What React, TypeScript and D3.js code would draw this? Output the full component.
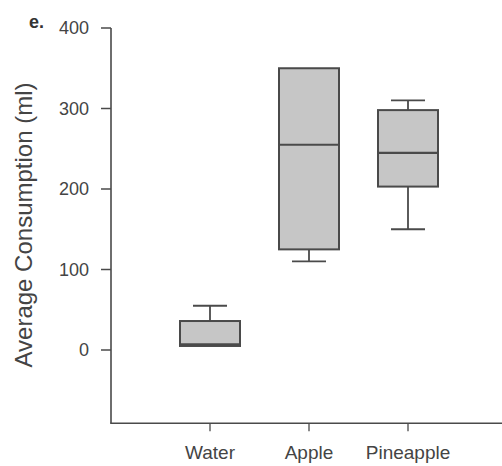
import React from 'react'
import * as d3 from 'd3'

const categories = ['Water', 'Apple', 'Pineapple']
const mins = [5, 110, 150]
const q1s = [5, 125, 203]
const medians = [7, 255, 245]
const q3s = [36, 350, 298]
const maxs = [55, 350, 310]
const yTicks = [0, 100, 200, 300, 400]

const width = 502
const height = 466

export default function App() {
  const xScale = d3.scaleLinear().domain([0, categories.length + 1]).range([111, 507])
  const yScale = d3.scaleLinear().domain([0, 400]).range([350, 28])
  const yBottom = yScale(-91)
  const boxHalf = 30
  const capHalf = 17
  const ink = '#4a4a4a'
  const font = 'Liberation Sans, Arial, sans-serif'

  return (
    <div style={{ position: 'absolute', left: 0, top: 0 }}>
      <svg width={width} height={height} style={{ display: 'block', background: '#fff' }}>
        <text x={29} y={28} fontFamily={font} fontWeight="bold" fontSize={18} fill="#333">
          e.
        </text>
        {/* y axis */}
        <line x1={111} x2={111} y1={yScale(400)} y2={yBottom} stroke={ink} strokeWidth={1.6} />
        {yTicks.map((t) => (
          <g key={t}>
            <line x1={101} x2={111} y1={yScale(t)} y2={yScale(t)} stroke={ink} strokeWidth={1.5} />
            <text
              x={89}
              y={yScale(t)}
              dy="0.35em"
              textAnchor="end"
              fontFamily={font}
              fontSize={18}
              fill="#444"
            >
              {t}
            </text>
          </g>
        ))}
        {/* x axis */}
        <line x1={110.2} x2={width} y1={yBottom} y2={yBottom} stroke={ink} strokeWidth={1.6} />
        {categories.map((c, i) => {
          const cx = xScale(i + 1)
          return (
            <g key={c}>
              <line x1={cx} x2={cx} y1={yBottom} y2={yBottom + 8} stroke={ink} strokeWidth={1.3} />
              <text x={cx} y={459} textAnchor="middle" fontFamily={font} fontSize={19} fill="#444">
                {c}
              </text>
              {/* whiskers */}
              <line x1={cx} x2={cx} y1={yScale(maxs[i])} y2={yScale(q3s[i])} stroke={ink} strokeWidth={1.8} />
              <line x1={cx} x2={cx} y1={yScale(q1s[i])} y2={yScale(mins[i])} stroke={ink} strokeWidth={1.8} />
              {maxs[i] > q3s[i] && (
                <line x1={cx - capHalf} x2={cx + capHalf} y1={yScale(maxs[i])} y2={yScale(maxs[i])} stroke={ink} strokeWidth={1.8} />
              )}
              {mins[i] < q1s[i] && (
                <line x1={cx - capHalf} x2={cx + capHalf} y1={yScale(mins[i])} y2={yScale(mins[i])} stroke={ink} strokeWidth={1.8} />
              )}
              <rect
                x={cx - boxHalf}
                y={yScale(q3s[i])}
                width={boxHalf * 2}
                height={yScale(q1s[i]) - yScale(q3s[i])}
                fill="#c6c6c6"
                stroke={ink}
                strokeWidth={2}
              />
              <line
                x1={cx - boxHalf}
                x2={cx + boxHalf}
                y1={yScale(medians[i])}
                y2={yScale(medians[i])}
                stroke={ink}
                strokeWidth={2.2}
              />
            </g>
          )
        })}
        <text
          transform={`translate(32, 225) rotate(-90)`}
          textAnchor="middle"
          fontFamily={font}
          fontSize={24}
          fill="#444"
        >
          Average Consumption (ml)
        </text>
      </svg>
    </div>
  )
}
